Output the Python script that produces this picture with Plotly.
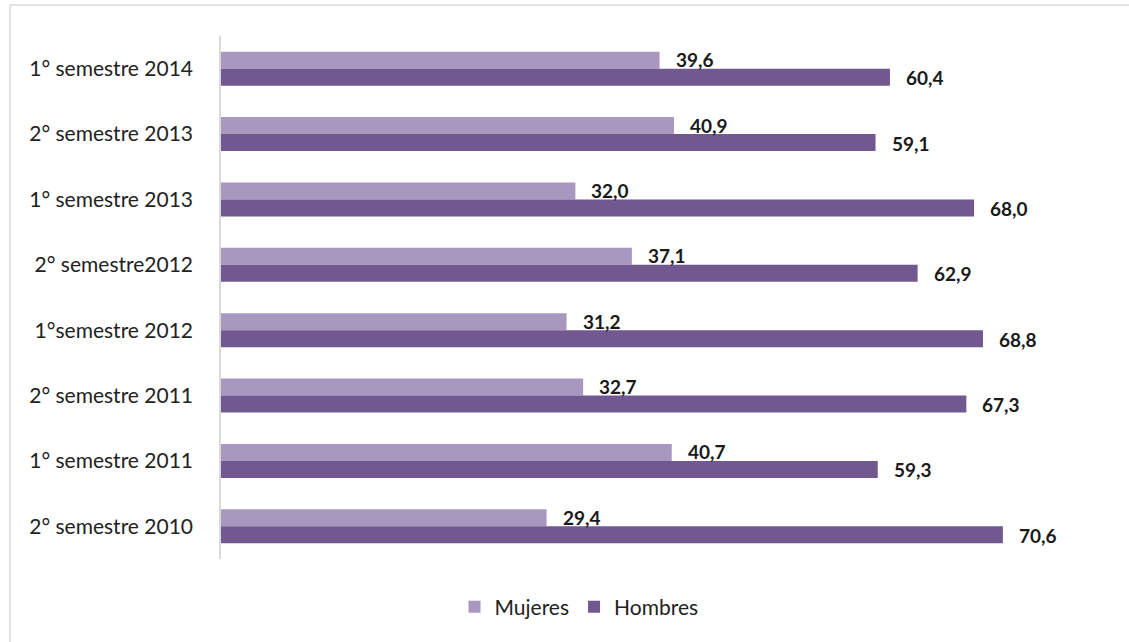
import plotly.graph_objects as go

categories = ["1° semestre 2014", "2° semestre 2013", "1° semestre 2013", "2° semestre2012",
              "1°semestre 2012", "2° semestre 2011", "1° semestre 2011", "2° semestre 2010"]
mujeres = [39.6, 40.9, 32.0, 37.1, 31.2, 32.7, 40.7, 29.4]
hombres = [60.4, 59.1, 68.0, 62.9, 68.8, 67.3, 59.3, 70.6]
series_names = ["Mujeres", "Hombres"]

W, H = 1129, 642
L, R, T, B = 221, 22, 36, 83
pw, ph = W - L - R, H - T - B
FONT = "Lato, Open Sans, sans-serif"

fig = go.Figure()
fig.add_trace(go.Bar(y=categories, x=mujeres, orientation="h", name=series_names[0],
                     marker=dict(color="#A898C0", line=dict(width=0))))
fig.add_trace(go.Bar(y=categories, x=hombres, orientation="h", name=series_names[1],
                     marker=dict(color="#715890", line=dict(width=0))))

def fmt(v):
    return f"{v:.1f}".replace(".", ",")

ann = []
for vals, ys in ((mujeres, 9), (hombres, -9)):
    for c, v in zip(categories, vals):
        ann.append(dict(x=v, y=c, text="<b>" + fmt(v) + "</b>", showarrow=False,
                        xanchor="left", yanchor="middle", xshift=14, yshift=ys,
                        font=dict(family=FONT, size=19, color="#1a1a1a")))

def px2x(px):
    return (px - L) / pw

def py2y(py):
    return 1 - (py - T) / ph

shapes = [
    dict(type="line", xref="paper", yref="paper", x0=px2x(10), x1=px2x(1129), y0=py2y(5), y1=py2y(5),
         line=dict(color="#d9d9d9", width=1.5)),
    dict(type="line", xref="paper", yref="paper", x0=px2x(10), x1=px2x(10), y0=py2y(5), y1=py2y(642),
         line=dict(color="#d9d9d9", width=1.5)),
]

fig.update_layout(
    width=W, height=H,
    margin=dict(l=L, r=R, t=T, b=B, pad=0),
    paper_bgcolor="white", plot_bgcolor="white",
    barmode="group", bargap=0.48, bargroupgap=0,
    font=dict(family=FONT, size=16, color="#222"),
    xaxis=dict(range=[0, 80], showticklabels=False, showgrid=False, zeroline=False, showline=False, fixedrange=True),
    yaxis=dict(autorange="reversed", showgrid=False, zeroline=False, showline=True,
               linecolor="#d9d9d9", linewidth=1.5, ticks="", ticklabelstandoff=22,
               tickfont=dict(family=FONT, size=21, color="#222")),
    legend=dict(orientation="h", x=px2x(579), xanchor="center", y=py2y(607), yanchor="middle",
                font=dict(family=FONT, size=21, color="#222"),
                itemwidth=30, traceorder="normal"),
    annotations=ann,
    shapes=shapes,
    showlegend=True,
)

fig.write_html("out.html", config={"displayModeBar": False},
               post_script="document.body.style.margin='0px';")
